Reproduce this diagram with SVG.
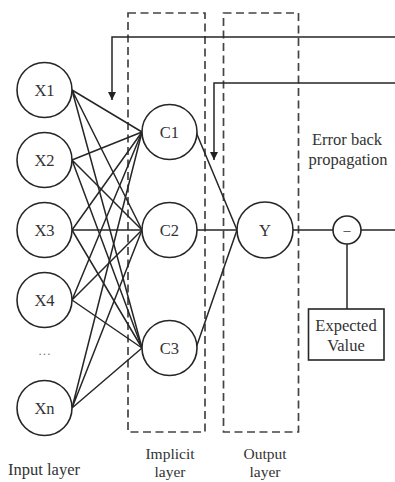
<svg xmlns="http://www.w3.org/2000/svg" width="395" height="482" viewBox="0 0 395 482">
  <defs>
    <marker id="arrow" viewBox="0 0 10 10" refX="10" refY="5" markerWidth="8" markerHeight="13" markerUnits="userSpaceOnUse" orient="auto">
      <path d="M0,0 L10,5 L0,10 Z" fill="#222222"/>
    </marker>
    <style>
      .node { fill: #ffffff; stroke: #262626; stroke-width: 1.6; }
      .link { stroke: #262626; stroke-width: 1.5; fill: none; }
      .frame { fill: none; stroke: #444444; stroke-width: 1.7; stroke-dasharray: 8 4.5; }
      .lbl { font-family: "Liberation Serif", "Times New Roman", serif; font-size: 16.5px; fill: #333333; text-anchor: middle; }
      .cap { font-size: 15.5px; }
    </style>
  </defs>
  <rect width="395" height="482" fill="#ffffff"/>

  <!-- layer frames -->
  <g id="frames">
    <rect class="frame" x="128" y="13" width="77" height="419"/>
    <rect class="frame" x="223.5" y="13" width="75" height="419"/>
  </g>

  <!-- connectors -->
  <g id="connectors">
    <!-- input layer to implicit layer (fully connected) -->
    <path class="link" d="M72,90 L142,132 M72,90 L142,230 M72,90 L142,348"/>
    <path class="link" d="M72,160 L142,132 M72,160 L142,230 M72,160 L142,348"/>
    <path class="link" d="M72,230 L142,132 M72,230 L142,230 M72,230 L142,348"/>
    <path class="link" d="M72,300 L142,132 M72,300 L142,230 M72,300 L142,348"/>
    <path class="link" d="M72,408 L142,132 M72,408 L142,230 M72,408 L142,348"/>
    <!-- implicit layer to output -->
    <path class="link" d="M196,132 L237,230 M196,230 L237,230 M196,348 L237,230"/>
    <!-- output to comparator and expected value -->
    <path class="link" d="M293,230 L333,230 M361,230 L395,230 M347,244 L347,309"/>
    <!-- error back propagation -->
    <path class="link" d="M395,37 L112,37 L112,100" marker-end="url(#arrow)"/>
    <path class="link" d="M395,83 L214,83 L214,160" marker-end="url(#arrow)"/>
  </g>

  <!-- input layer -->
  <g id="x1"><circle class="node" cx="44.5" cy="90" r="27.5"/><text class="lbl" x="44.5" y="95.5">X1</text></g>
  <g id="x2"><circle class="node" cx="44.5" cy="160" r="27.5"/><text class="lbl" x="44.5" y="165.5">X2</text></g>
  <g id="x3"><circle class="node" cx="44.5" cy="230" r="27.5"/><text class="lbl" x="44.5" y="235.5">X3</text></g>
  <g id="x4"><circle class="node" cx="44.5" cy="300" r="27.5"/><text class="lbl" x="44.5" y="305.5">X4</text></g>
  <g id="dots"><text class="lbl" x="44.5" y="355" style="font-size:13px;fill:#777777">…</text></g>
  <g id="xn"><circle class="node" cx="44.5" cy="408" r="27.5"/><text class="lbl" x="44.5" y="413.5">Xn</text></g>

  <!-- implicit layer -->
  <g id="c1"><circle class="node" cx="169.5" cy="132" r="27.5"/><text class="lbl" x="169.5" y="137.5">C1</text></g>
  <g id="c2"><circle class="node" cx="169.5" cy="230" r="27.5"/><text class="lbl" x="169.5" y="235.5">C2</text></g>
  <g id="c3"><circle class="node" cx="169.5" cy="348" r="27.5"/><text class="lbl" x="169.5" y="353.5">C3</text></g>

  <!-- output layer -->
  <g id="y"><circle class="node" cx="265" cy="230" r="28"/><text class="lbl" x="265" y="235.5">Y</text></g>

  <!-- comparator -->
  <g id="minus"><circle class="node" cx="347" cy="230" r="14"/><text class="lbl" x="347" y="235" style="font-size:14px">–</text></g>

  <!-- expected value -->
  <g id="expected">
    <rect class="node" x="308.5" y="309" width="75.5" height="51"/>
    <text class="lbl" x="346" y="331">Expected</text>
    <text class="lbl" x="346" y="351">Value</text>
  </g>

  <!-- annotations -->
  <g id="labels">
    <text class="lbl" x="347" y="145">Error back</text>
    <text class="lbl" x="348" y="165">propagation</text>
    <text class="lbl" x="44" y="475">Input layer</text>
    <text class="lbl cap" x="170" y="459">Implicit</text>
    <text class="lbl cap" x="170" y="477">layer</text>
    <text class="lbl cap" x="265" y="459">Output</text>
    <text class="lbl cap" x="265" y="477">layer</text>
  </g>
</svg>
